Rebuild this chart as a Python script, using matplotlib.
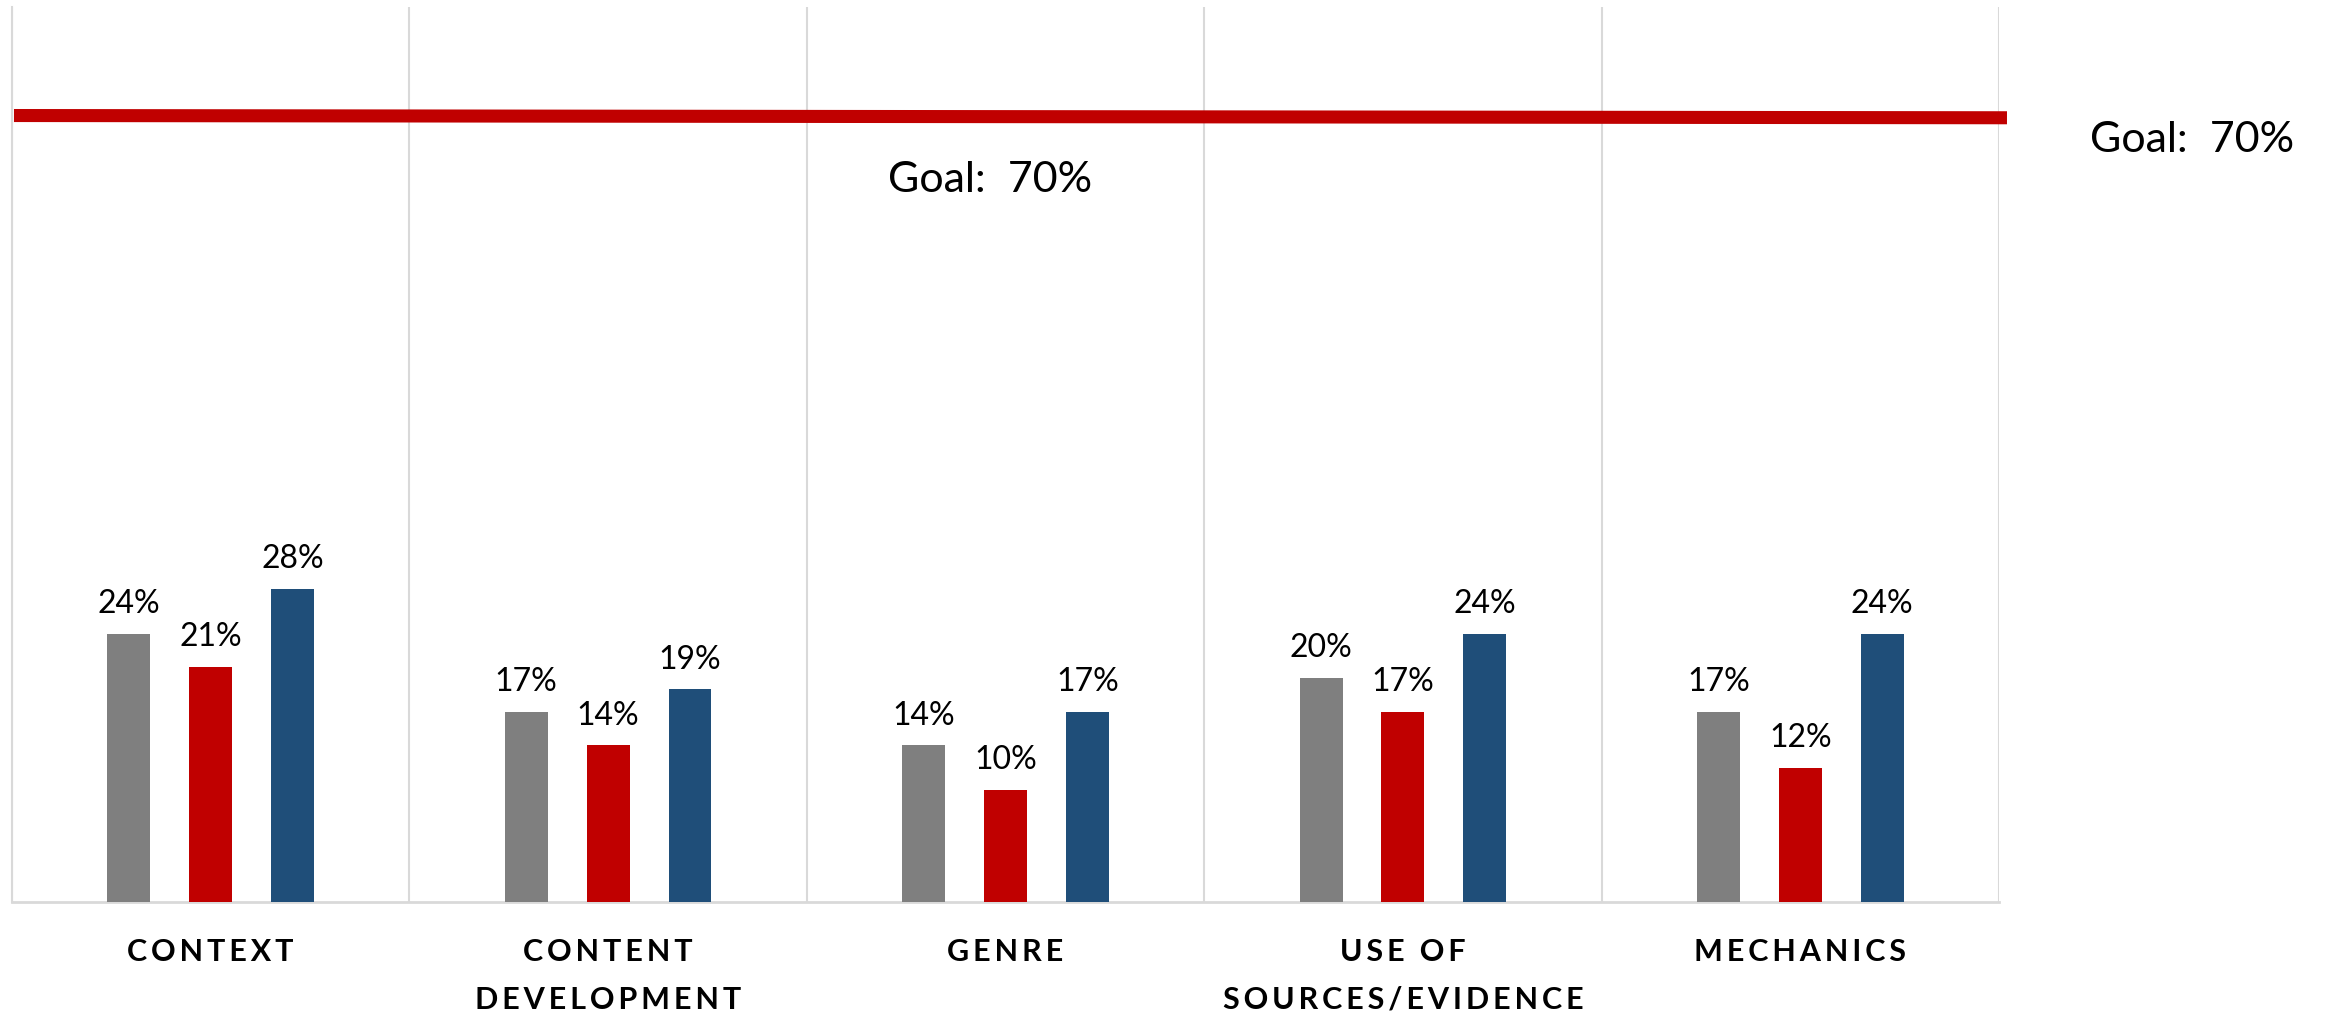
import matplotlib
matplotlib.use("Agg")
import matplotlib.pyplot as plt
import numpy as np

categories = ["CONTEXT", "CONTENT\nDEVELOPMENT", "GENRE", "USE OF\nSOURCES/EVIDENCE", "MECHANICS"]
series_gray = [24, 17, 14, 20, 17]
series_red = [21, 14, 10, 17, 12]
series_blue = [28, 19, 17, 24, 24]
goal_line = [70.3, 70.1]
goal_label = "Goal:  70%"

FONT = ["Lato", "DejaVu Sans"]
plt.rcParams["font.family"] = FONT

def spaced(s):
    # add letter spacing via thin spaces
    return "\n".join("\u2009".join(list(line)) for line in s.split("\n"))

fig = plt.figure(figsize=(23.25, 10.15), dpi=100)
ax = fig.add_axes([0.00516, 0.1113, 0.8598 - 0.00516, 0.9931 - 0.1113])

x = np.arange(len(categories))
off = 0.206
w = 0.108
colors = ["#7f7f7f", "#c00000", "#1f4e79"]
for i, (vals, c) in enumerate(zip([series_gray, series_red, series_blue], colors)):
    xs = x + (i - 1) * off
    ax.bar(xs, vals, width=w, color=c, zorder=3)
    for xi, v in zip(xs, vals):
        ax.annotate(f"{v}%", (xi, v), xytext=(0, 15), textcoords="offset points",
                    ha="center", va="baseline", fontsize=23, color="black")

ax.plot([-0.495, 4.52], goal_line, color="#c00000", linewidth=9.4,
        solid_capstyle="butt", clip_on=False, zorder=4)

ax.text(1.96, 64.5, goal_label, ha="center", va="center", fontsize=31, color="black")
ax.text(4.986, 68.1, goal_label, ha="center", va="center", fontsize=31, color="black",
        clip_on=False)

ax.set_xlim(-0.5, 4.5)
ax.set_ylim(0, 80)
ax.set_yticks([])
ax.set_xticks(x)
ax.set_xticklabels([spaced(c) for c in categories], fontsize=22, fontweight="bold",
                   linespacing=1.85)
ax.tick_params(axis="x", length=0, pad=26)
ax.set_xticks(np.arange(-0.5, 5.0, 1.0), minor=True)
ax.tick_params(axis="x", which="minor", length=0)
ax.grid(axis="x", which="minor", color="#d9d9d9", linewidth=1.5, zorder=0)
ax.grid(axis="x", which="major", visible=False)
for s in ["top", "right"]:
    ax.spines[s].set_visible(False)
ax.spines["left"].set_color("#d9d9d9")
ax.spines["left"].set_linewidth(1.5)
ax.spines["bottom"].set_color("#d9d9d9")
ax.spines["bottom"].set_linewidth(2)

fig.savefig("out.png", dpi=100, facecolor="white")
